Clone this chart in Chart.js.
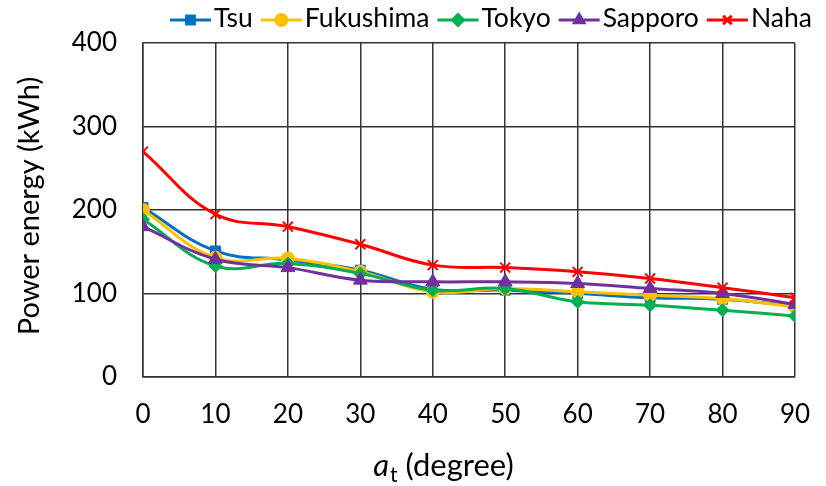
<!DOCTYPE html>
<html>
<head>
<meta charset="utf-8">
<script src="https://cdn.jsdelivr.net/npm/chart.js@4"></script>
<style>
  html, body { margin: 0; padding: 0; background: #fff; }
  #wrap { width: 826px; height: 486px; }
</style>
</head>
<body>
<div id="wrap"><canvas id="energyChart" width="826" height="486"></canvas></div>
<script>
'use strict';

const angles = [0, 10, 20, 30, 40, 50, 60, 70, 80, 90];
const yTicks = [0, 100, 200, 300, 400];

const tsu       = [203, 151, 140, 128, 105, 104, 100, 95, 93, 85];
const fukushima = [200, 143, 142, 126, 102, 106, 102, 98, 94, 84];
const tokyo     = [189, 133, 136, 124, 104, 106, 90, 86, 80, 73];
const sapporo   = [180, 141, 131, 116, 114, 114, 112, 106, 100, 87];
const naha      = [270, 195, 180, 159, 134, 131, 126, 118, 107, 95];

const FONT = 'Lato, "Open Sans", sans-serif';

function series(label, values, color, style, radius, order) {
    return {
        label: label,
        data: angles.map((a, i) => ({ x: a, y: values[i] })),
        borderColor: color,
        backgroundColor: color,
        borderWidth: 3,
        pointStyle: style,
        pointRadius: radius,
        pointBorderColor: color,
        pointBackgroundColor: color,
        pointBorderWidth: style === 'crossRot' ? 2 : 1,
        tension: 0.4,
        order: order
    };
}

const datasets = [
    series('Tsu', tsu, '#0070C0', 'rect', 7, 5),
    series('Fukushima', fukushima, '#FFC000', 'circle', 6.5, 4),
    series('Tokyo', tokyo, '#00B050', 'rectRot', 6.5, 3),
    series('Sapporo', sapporo, '#7030A0', 'triangle', 8, 2),
    series('Naha', naha, '#FF0000', 'crossRot', 7, 1)
];

// legend with line + marker, and the two axis titles
const decorations = {
    id: 'decorations',
    afterDraw(chart) {
        const ctx = chart.ctx;
        ctx.save();
        ctx.textBaseline = 'middle';
        ctx.font = '26.5px ' + FONT;

        let x = 170;
        const ly = 20;
        chart.data.datasets.forEach(ds => {
            ctx.strokeStyle = ds.borderColor;
            ctx.fillStyle = ds.borderColor;
            ctx.lineWidth = 3;
            ctx.beginPath();
            ctx.moveTo(x, ly);
            ctx.lineTo(x + 41, ly);
            ctx.stroke();
            Chart.helpers.drawPoint(ctx, {
                pointStyle: ds.pointStyle,
                radius: ds.pointStyle === 'crossRot' ? 6 : 5.5,
                borderWidth: ds.pointBorderWidth,
                rotation: 0
            }, x + 20.5, ly);
            ctx.fillStyle = '#000';
            ctx.textAlign = 'left';
            ctx.fillText(ds.label, x + 44, ly - 2);
            x += 44 + ctx.measureText(ds.label).width + 8;
        });

        // y title
        const area = chart.chartArea;
        ctx.save();
        ctx.translate(30, (area.top + area.bottom) / 2 - 4);
        ctx.rotate(-Math.PI / 2);
        ctx.textAlign = 'center';
        ctx.font = '29px ' + FONT;
        ctx.fillText('Power energy (kWh)', 0, 0);
        ctx.restore();

        // x title: italic a, subscript t
        ctx.textBaseline = 'alphabetic';
        ctx.textAlign = 'left';
        const base = 476;
        ctx.font = 'italic 31px ' + FONT;
        const wA = ctx.measureText('a').width;
        ctx.font = '21px ' + FONT;
        const wT = ctx.measureText('t').width;
        ctx.font = '31px ' + FONT;
        const rest = ' (degree)';
        const wR = ctx.measureText(rest).width;
        let tx = 443 - (wA + wT + wR) / 2;
        ctx.font = 'italic 31px ' + FONT;
        ctx.fillText('a', tx, base);
        tx += wA + 1;
        ctx.font = '21px ' + FONT;
        ctx.fillText('t', tx, base + 6);
        tx += wT;
        ctx.font = '31px ' + FONT;
        ctx.fillText(rest, tx, base);
        ctx.restore();
    }
};

new Chart(document.getElementById('energyChart'), {
    type: 'line',
    data: { datasets: datasets },
    plugins: [decorations],
    options: {
        responsive: false,
        animation: false,
        layout: { padding: { top: 43, right: 31, left: 0, bottom: 0 } },
        plugins: {
            legend: { display: false },
            tooltip: { enabled: false }
        },
        scales: {
            x: {
                type: 'linear',
                min: 0,
                max: 90,
                afterBuildTicks: scale => { scale.ticks = angles.map(v => ({ value: v })); },
                afterFit: scale => {
                    scale.height = 109;
                    scale.paddingLeft = 0;
                    scale.paddingRight = 0;
                },
                grid: { color: '#333', lineWidth: 1.5, drawTicks: false },
                border: { color: '#333', width: 1.5 },
                ticks: { color: '#000', padding: 22, font: { family: FONT, size: 26 } }
            },
            y: {
                min: 0,
                max: 400,
                afterBuildTicks: scale => { scale.ticks = yTicks.map(v => ({ value: v })); },
                afterFit: scale => { scale.width = 143; },
                grid: { color: '#333', lineWidth: 1.5, drawTicks: false },
                border: { color: '#333', width: 1.5 },
                ticks: { color: '#000', padding: 26, font: { family: FONT, size: 26 } }
            }
        }
    }
});
</script>
</body>
</html>
